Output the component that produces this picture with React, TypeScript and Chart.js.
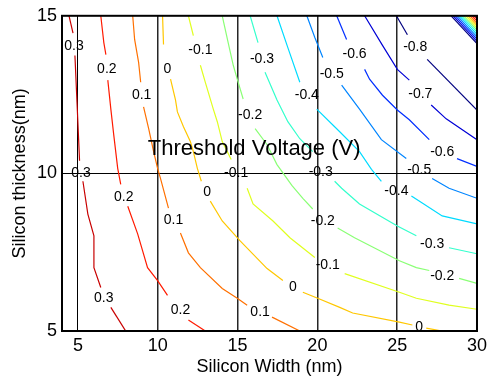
import React, { useEffect, useRef } from 'react';
import { Chart, registerables } from 'chart.js';

Chart.register(...registerables);

type Pt = [number, number];

const FONT = "'Liberation Sans', Arial, Helvetica, sans-serif";

const titleText = 'Threshold Voltage (V)';
const xAxisTitle = 'Silicon Width (nm)';
const yAxisTitle = 'Silicon thickness(nm)';

const xTicks = [5, 10, 15, 20, 25, 30];
const yTicks = [5, 10, 15];

const levels = [0.3, 0.2, 0.1, 0, -0.1, -0.2, -0.3, -0.4, -0.5, -0.6, -0.7, -0.8];
const levelColors = ['#C80000', '#FF1A00', '#FF7000', '#FFC700', '#E0FF1F', '#8AFF75', '#33FFCC', '#00DBFF', '#0085FF', '#002EFF', '#0000D6', '#000080'];

// contour line segments (x = width nm, y = thickness nm), gaps where labels sit
const lineP03: Pt[][] = [
  [[4.44, 15], [4.69, 14.45]],
  [[4.81, 13.74], [4.94, 12.26], [5.1, 10.4]],
  [[5.31, 9.75], [5.62, 8.71], [6.0, 8.02], [6.0, 7.01], [6.43, 6.38]],
  [[7.06, 5.75], [7.99, 5.0]],
  [[29.81, 15], [30, 14.91]],
];
const lineP02: Pt[][] = [
  [[6.43, 15], [6.62, 14.15], [6.75, 13.77]],
  [[6.87, 12.96], [7.06, 12.04], [7.24, 11.23], [7.49, 10.16], [7.68, 9.65]],
  [[8.12, 8.96], [8.74, 8.08], [9.36, 7.01], [9.99, 6.6], [10.61, 6.13]],
  [[11.92, 5.35], [12.98, 5.0]],
  [[29.69, 15], [30, 14.83]],
];
const lineP01: Pt[][] = [
  [[8.43, 15], [8.55, 14.25], [8.8, 13.52], [8.93, 12.89]],
  [[9.11, 12.11], [9.43, 11.42], [9.74, 10.69], [9.99, 10.16], [10.17, 9.84], [10.67, 8.9]],
  [[11.42, 8.11], [11.92, 7.48], [12.67, 7.01], [14.04, 6.35], [14.98, 6.04], [15.6, 5.82]],
  [[17.16, 5.44], [18.9, 5.0]],
  [[29.56, 15], [30, 14.76]],
];
const line0: Pt[][] = [
  [[10.3, 15], [10.36, 14.09]],
  [[10.8, 12.99], [11.11, 12.33], [11.23, 11.95], [11.61, 11.48], [12.04, 11.01], [12.23, 10.69], [12.48, 10.16], [12.73, 9.75]],
  [[13.29, 9.12], [14.04, 8.49], [15.16, 7.86], [16.85, 6.98], [17.84, 6.6]],
  [[19.09, 6.23], [20.02, 6.04], [21.4, 5.75], [22.21, 5.57], [25.14, 5.28], [25.95, 5.19]],
  [[26.82, 5.09], [27.82, 5.0]],
  [[29.43, 15], [30, 14.69]],
];
const lineM01: Pt[][] = [
  [[11.92, 15], [12.23, 14.37]],
  [[12.67, 13.43], [12.98, 12.89], [13.48, 12.04], [13.73, 11.64], [14.04, 11.01], [14.6, 10.44]],
  [[15.6, 9.53], [15.97, 9.03], [17.22, 8.49], [18.28, 7.96], [19.84, 7.33]],
  [[21.71, 6.82], [25.14, 6.23], [26.2, 6.04], [28.25, 5.82], [30, 5.69]],
  [[29.3, 15], [30, 14.62]],
];
const lineM02: Pt[][] = [
  [[14.04, 15], [14.41, 14.15], [14.73, 13.43], [14.98, 12.99], [15.35, 12.36]],
  [[16.1, 11.42], [16.85, 10.91], [17.47, 10.28], [18.4, 9.62], [19.09, 9.21], [19.71, 8.87]],
  [[21.27, 8.27], [22.33, 7.96], [25.14, 7.23], [26.2, 7.01], [27.01, 6.92]],
  [[28.88, 6.67], [30, 6.51]],
  [[29.16, 15], [30, 14.55]],
];
const lineM03: Pt[][] = [
  [[15.79, 15], [16.28, 14.15]],
  [[16.72, 13.21], [17.47, 12.33], [18.15, 11.64], [18.9, 11.1], [19.71, 10.69]],
  [[21.08, 9.75], [21.52, 9.53], [22.64, 9.03], [25.01, 8.33], [26.2, 8.02]],
  [[28.25, 7.64], [30, 7.45]],
  [[29.03, 15], [30, 14.48]],
];
const lineM04: Pt[][] = [
  [[17.47, 15], [18.15, 13.99], [18.9, 12.89]],
  [[19.96, 12.04], [21.4, 11.32], [22.64, 10.69], [23.39, 10.13], [24.01, 9.75]],
  [[25.89, 9.28], [26.57, 9.06], [27.82, 8.65], [30, 8.4]],
  [[28.9, 15], [30, 14.41]],
];
const lineM05: Pt[][] = [
  [[19.34, 15], [19.84, 14.31], [20.34, 13.68]],
  [[21.52, 12.8], [22.64, 12.04], [24.01, 11.07], [25.57, 10.47]],
  [[27.19, 9.84], [28.25, 9.53], [30, 9.21]],
  [[28.77, 15], [30, 14.33]],
];
const lineM06: Pt[][] = [
  [[21.21, 15], [21.83, 14.25]],
  [[22.96, 13.3], [23.27, 12.99], [24.08, 12.48], [25.01, 12.01], [25.76, 11.7], [27.01, 11.07]],
  [[28.75, 10.47], [30, 10.22]],
  [[28.64, 15], [30, 14.26]],
];
const lineM07: Pt[][] = [
  [[22.96, 15], [24.08, 14.06], [25.01, 13.3], [25.76, 12.96]],
  [[27.13, 12.17], [28.07, 11.73], [30, 11.07]],
  [[28.51, 15], [30, 14.19]],
];
const lineM08: Pt[][] = [
  [[24.95, 15], [25.64, 14.4]],
  [[26.88, 13.62], [30, 12.01]],
  [[28.38, 15], [30, 14.12]],
];

const labelsP03: Pt[] = [[4.75, 14.05], [5.19, 10.0], [6.62, 6.04]];
const labelsP02: Pt[] = [[6.81, 13.3], [7.87, 9.25], [11.42, 5.66]];
const labelsP01: Pt[] = [[8.99, 12.48], [10.99, 8.52], [16.41, 5.6]];
const labels0: Pt[] = [[10.61, 13.3], [13.1, 9.4], [18.47, 6.38], [26.38, 5.13]];
const labelsM01: Pt[] = [[12.67, 13.9], [14.91, 10.0], [20.65, 7.08]];
const labelsM02: Pt[] = [[15.79, 11.86], [20.34, 8.49], [27.82, 6.73]];
const labelsM03: Pt[] = [[16.53, 13.62], [20.21, 10.03], [27.19, 7.77]];
const labelsM04: Pt[] = [[19.34, 12.48], [24.95, 9.43]];
const labelsM05: Pt[] = [[20.9, 13.14], [26.38, 10.09]];
const labelsM06: Pt[] = [[22.33, 13.77], [27.82, 10.69]];
const labelsM07: Pt[] = [[26.45, 12.52]];
const labelsM08: Pt[] = [[26.13, 13.99]];

const contourLines = [lineP03, lineP02, lineP01, line0, lineM01, lineM02, lineM03, lineM04, lineM05, lineM06, lineM07, lineM08];
const contourLabels = [labelsP03, labelsP02, labelsP01, labels0, labelsM01, labelsM02, labelsM03, labelsM04, labelsM05, labelsM06, labelsM07, labelsM08];

export default function App() {
  const ref = useRef<HTMLCanvasElement>(null);

  useEffect(() => {
    const canvas = ref.current;
    if (!canvas) return;
    const datasets: any[] = [];
    contourLines.forEach((segs, li) => {
      segs.forEach((seg) => {
        datasets.push({
          data: seg.map(([x, y]) => ({ x, y })),
          showLine: true,
          borderColor: levelColors[li],
          backgroundColor: levelColors[li],
          borderWidth: 1.2,
          pointRadius: 0,
          pointHoverRadius: 0,
          fill: false,
          tension: 0,
        });
      });
    });

    const labelPlugin = {
      id: 'contourLabels',
      afterDatasetsDraw(chart: any) {
        const { ctx, scales } = chart;
        const xs = scales.x;
        const ys = scales.y;
        ctx.save();
        ctx.fillStyle = '#000';
        ctx.textAlign = 'center';
        ctx.textBaseline = 'middle';
        ctx.font = `14px ${FONT}`;
        contourLabels.forEach((pts, li) => {
          pts.forEach(([vx, vy]) => {
            ctx.fillText(String(levels[li]), xs.getPixelForValue(vx), ys.getPixelForValue(vy));
          });
        });
        const a = chart.chartArea;
        ctx.font = `22px ${FONT}`;
        ctx.fillText(titleText, a.left + (a.right - a.left) * 0.463, a.top + (a.bottom - a.top) * 0.421);
        ctx.restore();
      },
    };

    const framePlugin = {
      id: 'frame',
      afterDraw(chart: any) {
        const { ctx, chartArea: a } = chart;
        ctx.save();
        ctx.strokeStyle = '#000';
        ctx.lineWidth = 2;
        ctx.strokeRect(a.left, a.top, a.right - a.left, a.bottom - a.top);
        ctx.restore();
      },
    };

    const chart = new Chart(canvas, {
      type: 'scatter',
      data: { datasets },
      options: {
        animation: false,
        responsive: false,
        maintainAspectRatio: false,
        events: [],
        layout: { padding: { top: 13, right: 11, left: 0, bottom: 0 } },
        plugins: {
          legend: { display: false },
          tooltip: { enabled: false },
          title: { display: false },
        },
        scales: {
          x: {
            type: 'linear',
            min: 4,
            max: 30,
            afterBuildTicks: (scale: any) => {
              scale.ticks = xTicks.map((v) => ({ value: v }));
            },
            afterFit: (scale: any) => {
              scale.height = 52;
            },
            border: { display: false },
            grid: {
              drawTicks: false,
              color: (ctx: any) => (ctx.tick && ctx.tick.value === 5 ? '#000' : '#262626'),
              lineWidth: (ctx: any) => (ctx.tick && ctx.tick.value === 5 ? 1 : 1.5),
            },
            ticks: {
              padding: 4,
              color: '#000',
              font: { family: FONT, size: 18 },
              maxRotation: 0,
            },
            title: {
              display: true,
              text: xAxisTitle,
              color: '#000',
              font: { family: FONT, size: 18 },
              padding: { top: 0, bottom: 5 },
            },
          },
          y: {
            type: 'linear',
            min: 5,
            max: 15,
            afterBuildTicks: (scale: any) => {
              scale.ticks = yTicks.map((v) => ({ value: v }));
            },
            afterFit: (scale: any) => {
              scale.width = 62;
            },
            border: { display: false },
            grid: {
              drawTicks: false,
              color: '#000',
              lineWidth: 1,
            },
            ticks: {
              padding: 5,
              color: '#000',
              font: { family: FONT, size: 18 },
            },
            title: {
              display: true,
              text: yAxisTitle,
              color: '#000',
              font: { family: FONT, size: 18 },
              padding: { top: 9, bottom: 0 },
            },
          },
        },
      },
      plugins: [labelPlugin, framePlugin],
    });

    return () => {
      chart.destroy();
    };
  }, []);

  return (
    <div style={{ position: 'absolute', left: 0, top: 0, width: 491, height: 383, background: '#fff' }}>
      <canvas ref={ref} width={491} height={383} style={{ display: 'block', width: 491, height: 383 }} />
    </div>
  );
}
